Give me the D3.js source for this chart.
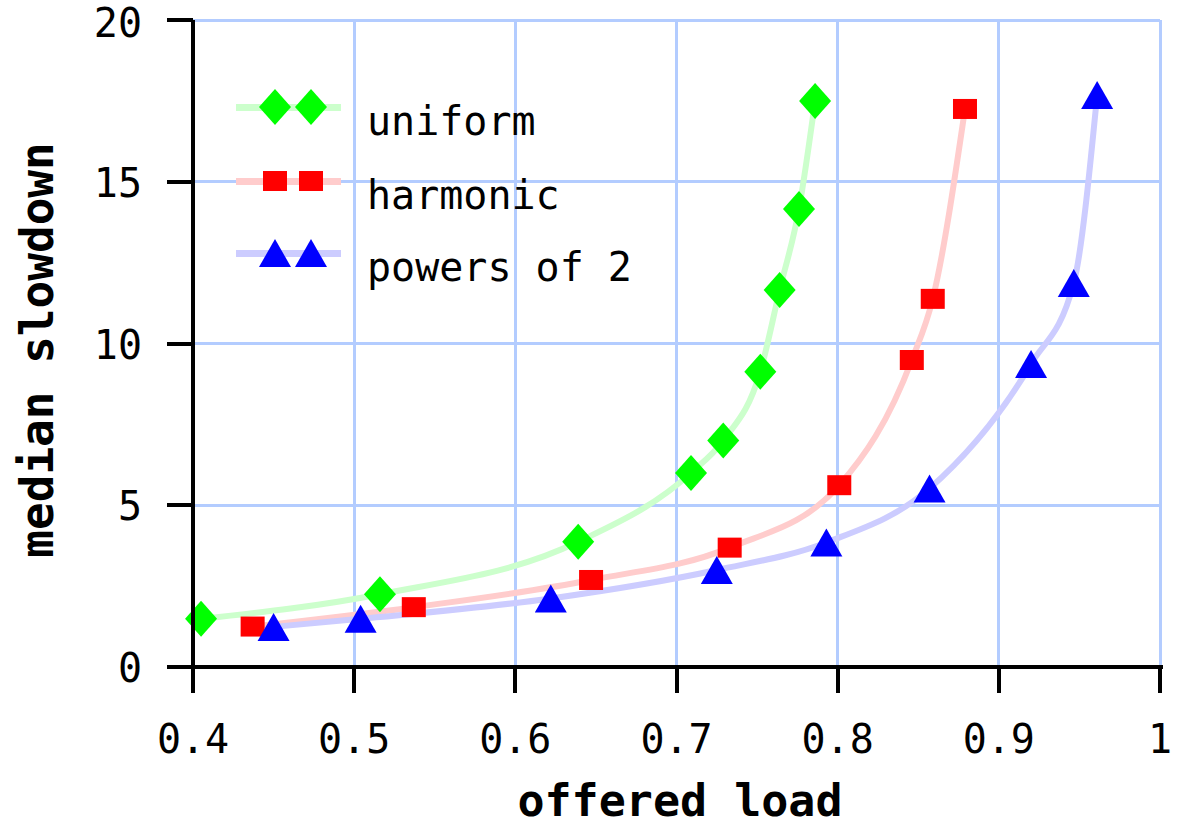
<!DOCTYPE html>
<html><head><meta charset="utf-8">
<script src="https://cdn.jsdelivr.net/npm/d3@7"></script>
<style>body{margin:0;background:#fff}svg{display:block}</style>
</head><body>
<svg id="c" width="1189" height="827"></svg>
<script>
const xTicks = [0.4, 0.5, 0.6, 0.7, 0.8, 0.9, 1];
const xTickLabels = ["0.4", "0.5", "0.6", "0.7", "0.8", "0.9", "1"];
const yTicks = [0, 5, 10, 15, 20];
const yTickLabels = ["0", "5", "10", "15", "20"];

const uniformX = [0.405, 0.516, 0.639, 0.709, 0.729, 0.752, 0.764, 0.776, 0.786];
const uniformY = [1.49, 2.25, 3.87, 6.0, 7.0, 9.13, 11.65, 14.16, 17.5];
const harmonicX = [0.437, 0.537, 0.647, 0.733, 0.801, 0.846, 0.859, 0.879];
const harmonicY = [1.25, 1.85, 2.69, 3.69, 5.62, 9.49, 11.38, 17.25];
const powersX = [0.45, 0.504, 0.622, 0.725, 0.793, 0.857, 0.92, 0.9465, 0.961];
const powersY = [1.24, 1.49, 2.12, 3.0, 3.85, 5.52, 9.37, 11.87, 17.68];

const seriesNames = ["uniform", "harmonic", "powers of 2"];
const markerColors = ["#00ff00", "#ff0000", "#0000ff"];
const lineColors = ["#ccffcc", "#ffcccc", "#ccccff"];
const markerShapes = ["diamond", "square", "triangle"];

const series = [
  {name: seriesNames[0], xs: uniformX, ys: uniformY},
  {name: seriesNames[1], xs: harmonicX, ys: harmonicY},
  {name: seriesNames[2], xs: powersX, ys: powersY}
].map((s, i) => ({...s, pts: s.xs.map((x, j) => [x, s.ys[j]]), mc: markerColors[i], lc: lineColors[i], shape: markerShapes[i]}));

const svg = d3.select("#c");
const L = 193, R = 1160, T = 20, B = 667;
const x = d3.scaleLinear().domain([0.4, 1]).range([L, R]);
const y = d3.scaleLinear().domain([0, 20]).range([B, T]);
const mono = "'DejaVu Sans Mono', 'Liberation Mono', monospace";
const grid = "#b3ccff";

// grid
const g = svg.append("g").attr("shape-rendering", "crispEdges");
g.selectAll(".gx").data(xTicks).join("line")
  .attr("x1", d => x(d)).attr("x2", d => x(d)).attr("y1", T).attr("y2", B)
  .attr("stroke", grid).attr("stroke-width", 3);
g.selectAll(".gy").data(yTicks).join("line")
  .attr("y1", d => y(d)).attr("y2", d => y(d)).attr("x1", L).attr("x2", R)
  .attr("stroke", grid).attr("stroke-width", 3);

// lines
const line = d3.line().x(d => x(d[0])).y(d => y(d[1])).curve(d3.curveMonotoneX);
svg.selectAll(".ln").data(series).join("path")
  .attr("d", d => line(d.pts)).attr("fill", "none")
  .attr("stroke", d => d.lc).attr("stroke-width", 6);

function marker(sel, shape, color) {
  if (shape === "diamond") {
    sel.append("path").attr("d", "M0,-18L16,0L0,18L-16,0Z").attr("fill", color);
  } else if (shape === "square") {
    sel.append("rect").attr("x", -12).attr("y", -10).attr("width", 24).attr("height", 20).attr("fill", color);
  } else {
    sel.append("path").attr("d", "M0,-14L16,14L-16,14Z").attr("fill", color);
  }
}

series.forEach(s => {
  svg.append("g").selectAll("g").data(s.pts).join("g")
    .attr("transform", d => `translate(${x(d[0])},${y(d[1])})`)
    .each(function() { marker(d3.select(this), s.shape, s.mc); });
});

// axes
const ax = svg.append("g").attr("shape-rendering", "crispEdges");
ax.append("line").attr("x1", L).attr("x2", R + 3).attr("y1", B).attr("y2", B).attr("stroke", "#000").attr("stroke-width", 4);
ax.append("line").attr("x1", L).attr("x2", L).attr("y1", T).attr("y2", B + 2).attr("stroke", "#000").attr("stroke-width", 4);
ax.selectAll(".tx").data(xTicks).join("line")
  .attr("x1", d => x(d)).attr("x2", d => x(d)).attr("y1", B).attr("y2", B + 26)
  .attr("stroke", "#000").attr("stroke-width", 4);
ax.selectAll(".ty").data(yTicks).join("line")
  .attr("y1", d => y(d)).attr("y2", d => y(d)).attr("x1", L - 26).attr("x2", L)
  .attr("stroke", "#000").attr("stroke-width", 4);

svg.selectAll(".xl").data(xTicks).join("text")
  .attr("x", d => x(d)).attr("y", 753).attr("text-anchor", "middle")
  .attr("font-family", mono).attr("font-size", 40).text((d, i) => xTickLabels[i]);
svg.selectAll(".yl").data(yTicks).join("text")
  .attr("x", 142).attr("y", d => Math.max(y(d) + 15, 37)).attr("text-anchor", "end")
  .attr("font-family", mono).attr("font-size", 40).text((d, i) => yTickLabels[i]);

svg.append("text").attr("x", 680).attr("y", 816).attr("text-anchor", "middle")
  .attr("font-family", mono).attr("font-weight", "bold").attr("font-size", 45).text("offered load");
svg.append("text").attr("transform", "translate(53,350) rotate(-90)").attr("text-anchor", "middle")
  .attr("font-family", mono).attr("font-weight", "bold").attr("font-size", 46).text("median slowdown");

// legend
const legY = [107, 181, 253];
series.forEach((s, i) => {
  const lg = svg.append("g");
  lg.append("line").attr("x1", 236).attr("x2", 341).attr("y1", legY[i]).attr("y2", legY[i])
    .attr("stroke", s.lc).attr("stroke-width", 7).attr("shape-rendering", "crispEdges");
  [275, 311].forEach(mx => {
    const m = lg.append("g").attr("transform", `translate(${mx},${legY[i]})`);
    marker(m, s.shape, s.mc);
  });
  lg.append("text").attr("x", 367).attr("y", legY[i] + 28)
    .attr("font-family", mono).attr("font-size", 40).text(s.name);
});
</script>
</body></html>
